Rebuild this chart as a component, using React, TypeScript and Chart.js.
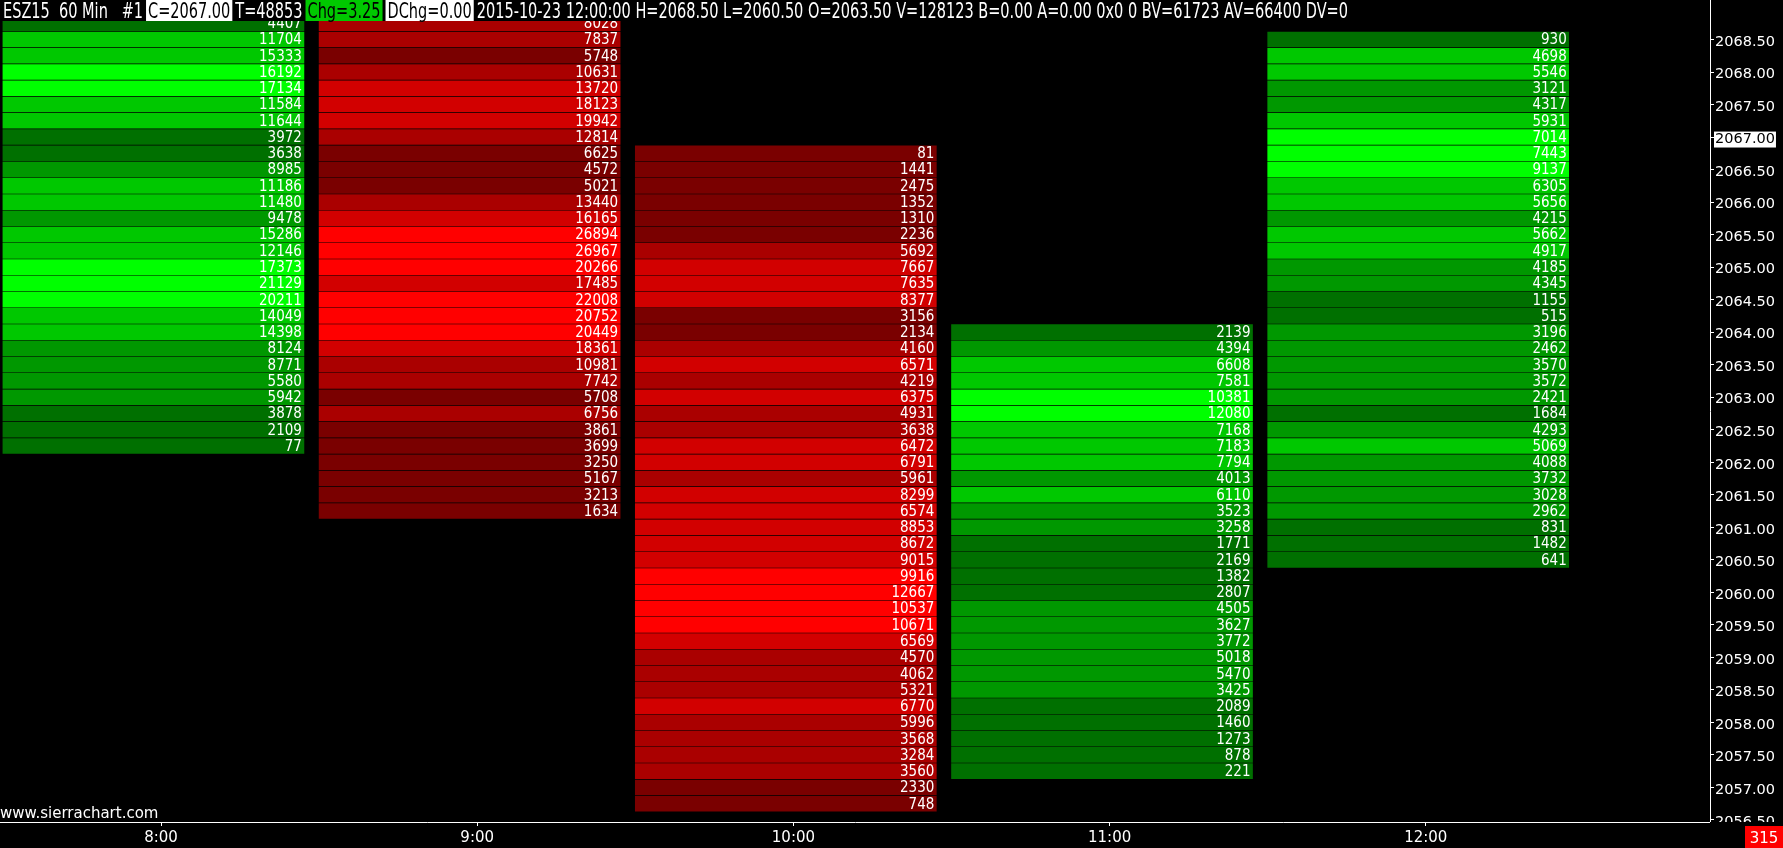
import React, { useEffect, useRef } from 'react';
import { Chart, registerables } from 'chart.js';

Chart.register(...registerables);

// ---------- data ----------
const timeTicks = [8, 9, 10, 11, 12];
const timeLabels = ['8:00', '9:00', '10:00', '11:00', '12:00'];

const priceTicks = [
  2056.5, 2057.0, 2057.5, 2058.0, 2058.5, 2059.0, 2059.5, 2060.0, 2060.5,
  2061.0, 2061.5, 2062.0, 2062.5, 2063.0, 2063.5, 2064.0, 2064.5, 2065.0,
  2065.5, 2066.0, 2066.5, 2067.0, 2067.5, 2068.0, 2068.5,
];
const currentPrice = 2067.0;

const barTimes = [8, 9, 10, 11, 12];
const barTopPrices = [2068.75, 2068.75, 2066.75, 2064.0, 2068.5];
const barIsUp = [true, false, false, true, true];

const vol0800 = [4407, 11704, 15333, 16192, 17134, 11584, 11644, 3972, 3638, 8985, 11186, 11480, 9478, 15286, 12146, 17373, 21129, 20211, 14049, 14398, 8124, 8771, 5580, 5942, 3878, 2109, 77];
const vol0900 = [8028, 7837, 5748, 10631, 13720, 18123, 19942, 12814, 6625, 4572, 5021, 13440, 16165, 26894, 26967, 20266, 17485, 22008, 20752, 20449, 18361, 10981, 7742, 5708, 6756, 3861, 3699, 3250, 5167, 3213, 1634];
const vol1000 = [81, 1441, 2475, 1352, 1310, 2236, 5692, 7667, 7635, 8377, 3156, 2134, 4160, 6571, 4219, 6375, 4931, 3638, 6472, 6791, 5961, 8299, 6574, 8853, 8672, 9015, 9916, 12667, 10537, 10671, 6569, 4570, 4062, 5321, 6770, 5996, 3568, 3284, 3560, 2330, 748];
const vol1100 = [2139, 4394, 6608, 7581, 10381, 12080, 7168, 7183, 7794, 4013, 6110, 3523, 3258, 1771, 2169, 1382, 2807, 4505, 3627, 3772, 5018, 5470, 3425, 2089, 1460, 1273, 878, 221];
const vol1200 = [930, 4698, 5546, 3121, 4317, 5931, 7014, 7443, 9137, 6305, 5656, 4215, 5662, 4917, 4185, 4345, 1155, 515, 3196, 2462, 3570, 3572, 2421, 1684, 4293, 5069, 4088, 3732, 3028, 2962, 831, 1482, 641];

const barVolumes = [vol0800, vol0900, vol1000, vol1100, vol1200];

const headerSegments = [
  { text: 'ESZ15  60 Min   #1', bg: '', fg: '#fff' },
  { text: 'C=2067.00', bg: '#fff', fg: '#000' },
  { text: 'T=48853', bg: '', fg: '#fff' },
  { text: 'Chg=3.25', bg: '#00c800', fg: '#000' },
  { text: 'DChg=0.00', bg: '#fff', fg: '#000' },
  { text: '2015-10-23 12:00:00 H=2068.50 L=2060.50 O=2063.50 V=128123 B=0.00 A=0.00 0x0 0 BV=61723 AV=66400 DV=0', bg: '', fg: '#fff' },
];
const watermark = 'www.sierrachart.com';
const countdownText = '315';

// ---------- styling ----------
const greenShades = ['rgb(0,112,0)', 'rgb(0,152,0)', 'rgb(0,200,0)', 'rgb(0,255,0)'];
const redShades = ['rgb(122,0,0)', 'rgb(170,0,0)', 'rgb(210,0,0)', 'rgb(255,0,0)'];

function shade(v: number, max: number, up: boolean) {
  const lvl = Math.min(3, Math.floor((v / max) * 4));
  return (up ? greenShades : redShades)[lvl];
}

const FONT = '"DejaVu Sans", "Liberation Sans", sans-serif';
const NARROW = '"DejaVu Sans Condensed", "Liberation Sans Narrow", "DejaVu Sans", sans-serif';

const overlayPlugin = {
  id: 'scOverlay',
  beforeDraw(chart: any) {
    const { ctx, chartArea, width, height } = chart;
    ctx.save();
    ctx.fillStyle = '#000';
    ctx.fillRect(0, 0, width, height);
    ctx.beginPath();
    ctx.rect(0, 0, width, chartArea.bottom);
    ctx.rect(0, chartArea.bottom, chartArea.right, height - chartArea.bottom);
    ctx.clip();
  },
  afterDatasetsDraw(chart: any) {
    const { ctx, chartArea } = chart;
    ctx.save();
    ctx.beginPath();
    ctx.rect(chartArea.left, chartArea.top, chartArea.right - chartArea.left, chartArea.bottom - chartArea.top);
    ctx.clip();
    ctx.font = '15px ' + NARROW;
    ctx.fillStyle = '#fff';
    ctx.textAlign = 'right';
    ctx.textBaseline = 'middle';
    chart.data.datasets.forEach((_ds: any, di: number) => {
      const meta = chart.getDatasetMeta(di);
      const vols = barVolumes[di];
      meta.data.forEach((el: any, i: number) => {
        const p = el.getProps(['x', 'y', 'base'], true);
        const right = Math.max(p.x, p.base);
        ctx.fillText(String(vols[i]), right - 2, p.y + 1);
      });
    });
    ctx.restore();
  },
  afterDraw(chart: any) {
    const { ctx, chartArea, width, height } = chart;
    ctx.restore();

    // header band
    const bandH = 21;
    ctx.save();
    ctx.fillStyle = '#000';
    ctx.fillRect(0, 0, chartArea.right - 1, bandH);
    ctx.font = '21px ' + NARROW;
    ctx.textBaseline = 'alphabetic';
    ctx.textAlign = 'left';
    const startX = 3;
    const endX = 1348;
    const gap = 3;
    const widths = headerSegments.map((s) => ctx.measureText(s.text).width);
    const extra = headerSegments.reduce((a, s) => a + (s.bg ? 4 : 0), 0) + gap * (headerSegments.length - 1);
    const sx = (endX - startX - extra) / widths.reduce((a, b) => a + b, 0);
    let x = startX;
    headerSegments.forEach((s, i) => {
      const pad = s.bg ? 2 : 0;
      const w = widths[i] * sx;
      if (s.bg) {
        ctx.fillStyle = s.bg;
        ctx.fillRect(x, 0, w + pad * 2, bandH);
      }
      ctx.fillStyle = s.fg;
      ctx.save();
      ctx.translate(x + pad, 17.5);
      ctx.scale(sx, 1);
      ctx.fillText(s.text, 0, 0);
      ctx.restore();
      x += w + pad * 2 + gap;
    });
    ctx.restore();

    // watermark
    ctx.save();
    ctx.font = '15px ' + FONT;
    ctx.fillStyle = '#fff';
    ctx.textAlign = 'left';
    ctx.textBaseline = 'alphabetic';
    ctx.fillText(watermark, 0, chartArea.bottom - 4);
    ctx.restore();

    // countdown box
    ctx.save();
    const bw = 38;
    const bh = 22;
    ctx.fillStyle = '#ff0000';
    ctx.fillRect(width - bw, height - bh, bw, bh);
    ctx.font = '15px ' + FONT;
    ctx.fillStyle = '#fff';
    ctx.textAlign = 'center';
    ctx.textBaseline = 'alphabetic';
    ctx.fillText(countdownText, width - bw / 2, height - 5);
    ctx.restore();
  },
};

export default function App() {
  const ref = useRef<HTMLCanvasElement>(null);

  useEffect(() => {
    document.body.style.margin = '0';
    document.body.style.background = '#000';
    const canvas = ref.current;
    if (!canvas) return;

    const datasets = barVolumes.map((vols, di) => {
      const t = barTimes[di];
      const top = barTopPrices[di];
      const max = Math.max(...vols);
      return {
        label: timeLabels[di],
        data: vols.map((_v, i) => ({ x: [t - 0.5, t + 0.452], y: top - i * 0.25 })),
        backgroundColor: vols.map((v) => shade(v, max, barIsUp[di])),
        borderWidth: 0,
        barThickness: 15,
        grouped: false,
      };
    });

    const chart = new Chart(canvas, {
      type: 'bar',
      data: { datasets } as any,
      options: {
        indexAxis: 'y',
        animation: false,
        responsive: false,
        maintainAspectRatio: false,
        events: [],
        layout: { padding: 0, autoPadding: false } as any,
        plugins: { legend: { display: false }, tooltip: { enabled: false } },
        scales: {
          x: {
            type: 'linear',
            position: 'bottom',
            min: 7.4908,
            max: 12.8988,
            offset: false,
            afterBuildTicks: (s: any) => {
              s.ticks = timeTicks.map((v) => ({ value: v }));
            },
            afterFit: (s: any) => {
              s.height = 26;
              s.paddingLeft = 0;
              s.paddingRight = 0;
            },
            ticks: {
              callback: (v: any) => {
                const i = timeTicks.indexOf(Number(v));
                return i >= 0 ? timeLabels[i] : '';
              },
              color: '#fff',
              font: { family: FONT, size: 15 },
              padding: 3,
              maxRotation: 0,
              autoSkip: false,
            },
            grid: { drawOnChartArea: false, drawTicks: true, tickLength: 4, color: '#fff', tickColor: '#fff', offset: false },
            border: { display: true, color: '#fff', width: 1 },
          },
          y: {
            type: 'linear',
            position: 'right',
            min: 2056.469,
            max: 2069.107,
            offset: false,
            afterBuildTicks: (s: any) => {
              s.ticks = priceTicks.map((v) => ({ value: v }));
            },
            afterFit: (s: any) => {
              s.width = 73;
              s.paddingTop = 0;
              s.paddingBottom = 0;
            },
            ticks: {
              callback: (v: any) => Number(v).toFixed(2),
              color: (c: any) => (c.tick && c.tick.value === currentPrice ? '#000' : '#fff'),
              showLabelBackdrop: (c: any) => !!(c.tick && c.tick.value === currentPrice),
              backdropColor: '#fff',
              backdropPadding: { top: 0, bottom: 0, left: 1, right: 1 },
              padding: 1,
              labelOffset: 2.5,
              font: { family: FONT, size: 14.5, lineHeight: 1.1 },
              autoSkip: false,
            } as any,
            grid: { drawOnChartArea: false, drawTicks: true, tickLength: 4, color: '#fff', tickColor: '#fff', offset: false },
            border: { display: true, color: '#fff', width: 1 },
          },
        },
      } as any,
      plugins: [overlayPlugin],
    });

    return () => chart.destroy();
  }, []);

  return (
    <canvas
      ref={ref}
      width={1783}
      height={848}
      style={{ display: 'block', width: '1783px', height: '848px', background: '#000' }}
    />
  );
}
